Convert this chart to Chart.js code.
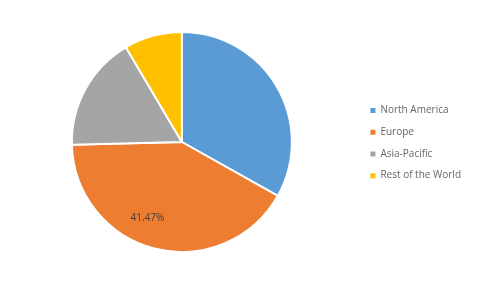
<!DOCTYPE html>
<html>
<head>
<meta charset="utf-8">
<script src="https://cdn.jsdelivr.net/npm/chart.js@4/dist/chart.umd.min.js"></script>
<style>
  html, body { margin: 0; padding: 0; background: #fff; }
  #wrap { width: 479px; height: 286px; }
</style>
</head>
<body>
<div id="wrap"><canvas id="chart" width="479" height="286"></canvas></div>
<script>
// regiones y participación (%)
const regions = ["North America", "Europe", "Asia-Pacific", "Rest of the World"];
const shares = [33.13, 41.47, 16.9, 8.5];
const colors = ["#5B9BD5", "#ED7D31", "#A5A5A5", "#FFC000"];
const labelText = ["", "41.47%", "", ""];

// dibuja la etiqueta de Europa dentro del sector
const sliceLabels = {
  id: "sliceLabels",
  afterDatasetsDraw(chart) {
    const ctx = chart.ctx;
    const meta = chart.getDatasetMeta(0);
    meta.data.forEach((arc, i) => {
      if (!labelText[i]) return;
      const a = arc.startAngle + 0.57 * (arc.endAngle - arc.startAngle);
      const r = arc.outerRadius * 0.76;
      ctx.save();
      ctx.font = "10px 'Open Sans'";
      ctx.fillStyle = "#404040";
      ctx.textAlign = "center";
      ctx.textBaseline = "middle";
      ctx.fillText(labelText[i], arc.x + Math.cos(a) * r, arc.y + Math.sin(a) * r);
      ctx.restore();
    });
  },
};

new Chart(document.getElementById("chart"), {
  type: "pie",
  data: {
    labels: regions,
    datasets: [
      {
        data: shares,
        backgroundColor: colors,
        borderColor: "#ffffff",
        borderWidth: 2,
      },
    ],
  },
  options: {
    responsive: false,
    animation: false,
    radius: 110,
    layout: { padding: { left: 5, right: 8, top: 0, bottom: 2 } },
    plugins: {
      tooltip: { enabled: false },
      legend: {
        position: "right",
        title: { display: true, text: "", font: { size: 1 }, padding: 0.5 },
        labels: {
          boxWidth: 5,
          boxHeight: 5,
          padding: 11.7,
          color: "#595959",
          font: { family: "'Open Sans'", size: 10 },
          generateLabels(chart) {
            return regions.map((r, i) => ({
              text: r,
              fillStyle: colors[i],
              strokeStyle: colors[i],
              lineWidth: 0,
              index: i,
            }));
          },
        },
      },
    },
  },
  plugins: [sliceLabels],
});
</script>
</body>
</html>
